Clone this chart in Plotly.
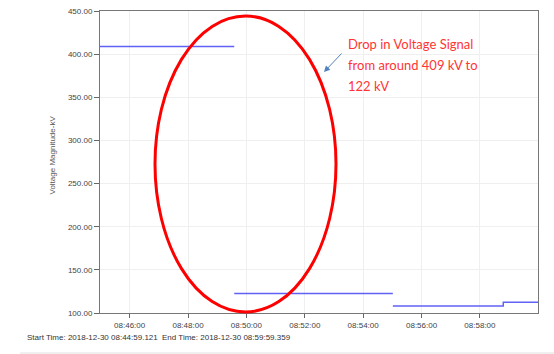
import plotly.graph_objects as go

# Data
seg_times = [
    "2018-12-30 08:44:59.121", "2018-12-30 08:49:35.000", None,
    "2018-12-30 08:49:35.000", "2018-12-30 08:55:01.000", None,
    "2018-12-30 08:55:01.000", "2018-12-30 08:58:48.000",
    "2018-12-30 08:58:48.000", "2018-12-30 08:59:59.359",
]
seg_values = [409, 409, None, 122.5, 122.5, None, 108, 108, 112.5, 112.5]

x_range = ["2018-12-30 08:44:59.121", "2018-12-30 08:59:59.359"]
y_ticks = [100, 150, 200, 250, 300, 350, 400, 450]

note_lines = ["Drop in Voltage Signal", "from around 409 kV to", "122 kV"]

W, H = 554, 354
L, R, T, B = 100, 16, 11, 41
PW, PH = W - L - R, H - T - B

def px(x):
    return (x - L) / PW

def py(y):
    return (H - B - y) / PH

fig = go.Figure()
fig.add_trace(go.Scatter(
    x=seg_times, y=seg_values, mode="lines",
    line=dict(color="rgba(80,80,245,0.9)", width=1.5),
    connectgaps=False, hoverinfo="skip", showlegend=False,
))

tick_font = dict(family="Liberation Sans, Arial, sans-serif", size=8, color="#444")

fig.update_xaxes(
    type="date", range=x_range,
    tick0="2018-12-30 08:46:00", dtick=120000, tickformat="%H:%M:%S",
    ticks="outside", ticklen=4, tickcolor="#666",
    showline=True, linecolor="#777", linewidth=1, mirror=True,
    showgrid=True, gridcolor="#efefef", gridwidth=1,
    tickfont=tick_font, zeroline=False, automargin=False,
)
fig.update_yaxes(
    range=[100, 450], tickvals=y_ticks, tickformat=".2f",
    ticks="outside", ticklen=5, tickcolor="#666",
    showline=True, linecolor="#777", linewidth=1, mirror=True,
    showgrid=True, gridcolor="#efefef", gridwidth=1,
    tickfont=tick_font, zeroline=False, automargin=False,
)

annotations = [
    dict(text="Voltage Magnitude-kV", textangle=-90, x=px(45), y=py(155),
         xref="paper", yref="paper", showarrow=False,
         font=dict(family="Liberation Sans, Arial, sans-serif", size=8, color="#555")),
    dict(text="Start Time: 2018-12-30 08:44:59.121", x=px(25), y=py(337),
         xref="paper", yref="paper", xanchor="left", yanchor="middle", showarrow=False,
         font=dict(family="Liberation Sans, Arial, sans-serif", size=8, color="#333")),
    dict(text="End Time: 2018-12-30 08:59:59.359", x=px(160), y=py(337),
         xref="paper", yref="paper", xanchor="left", yanchor="middle", showarrow=False,
         font=dict(family="Liberation Sans, Arial, sans-serif", size=8, color="#333")),
    dict(text="", x=px(324), y=py(72), xref="paper", yref="paper",
         showarrow=True, ax=19, ay=-20, arrowhead=2, arrowsize=1.2,
         arrowwidth=1, arrowcolor="#4f81bd"),
]
for i, line in enumerate(note_lines):
    annotations.append(dict(
        text=line, x=px(346), y=py(44 + 21 * i), xref="paper", yref="paper",
        xanchor="left", yanchor="middle", showarrow=False,
        font=dict(family="Lato, Carlito, sans-serif", size=13, color="#ff3535"),
    ))

shapes = [
    dict(type="circle", xref="paper", yref="paper",
         x0=px(155), x1=px(336), y0=py(312), y1=py(16),
         line=dict(color="#ff0000", width=3), layer="above"),
    dict(type="line", xref="paper", yref="paper",
         x0=px(20), x1=px(554), y0=py(353), y1=py(353),
         line=dict(color="#e0e0e0", width=1)),
]

fig.update_layout(
    width=W, height=H, margin=dict(l=L, r=R, t=T, b=B, autoexpand=False),
    paper_bgcolor="white", plot_bgcolor="white",
    annotations=annotations, shapes=shapes, showlegend=False,
)

fig.write_html(
    "out.html",
    config={"displayModeBar": False},
    post_script="document.body.style.margin='0';document.body.style.overflow='hidden';",
)
